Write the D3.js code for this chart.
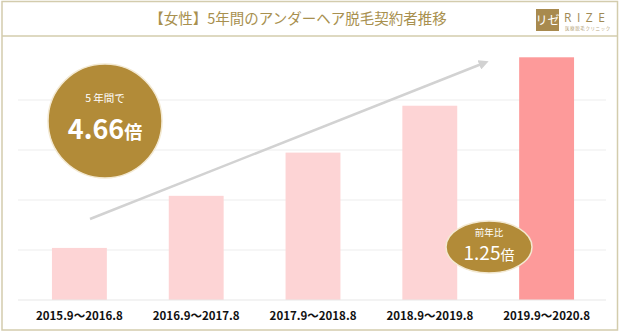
<!DOCTYPE html>
<html><head><meta charset="utf-8">
<script src="https://cdn.jsdelivr.net/npm/d3@7"></script>
<style>html,body{margin:0;padding:0;background:#fff;}svg{display:block;}</style>
</head><body>
<svg id="c" width="621" height="332"></svg>
<script>
const title = "【女性】5年間のアンダーヘア脱毛契約者推移";
const categories = ["2015.9～2016.8","2016.9～2017.8","2017.9～2018.8","2018.9～2019.8","2019.9～2020.8"];
const values = [100, 200, 283, 373, 466];
const gridValues = [96, 192, 288, 384];
const totalLabel = ["5 年間で", "4.66", "倍"];
const yoyLabel = ["前年比", "1.25", "倍"];

const svg = d3.select("#c");
const JP = "'Noto Sans CJK JP','Noto Sans',sans-serif";
const gold = "#b28b38";
const frame = "#d3ccad";

// frame
svg.append("rect").attr("x",2).attr("y",1.5).attr("width",615.5).attr("height",328.5)
  .attr("fill","#fff").attr("stroke",frame).attr("stroke-width",1.5);
svg.append("line").attr("x1",2).attr("x2",617.5).attr("y1",36).attr("y2",36)
  .attr("stroke",frame).attr("stroke-width",1.5);

// title
svg.append("text").attr("x",298).attr("y",24).attr("text-anchor","middle")
  .attr("font-family",JP).attr("font-size",14.5).attr("fill","#a8904e").text(title);

// logo
svg.append("rect").attr("x",536).attr("y",9).attr("width",23).attr("height",22).attr("fill","#a88a4e");
svg.append("text").attr("x",547.5).attr("y",25).attr("text-anchor","middle").attr("font-family",JP)
  .attr("font-size",12).attr("fill","#fff").text("リゼ");
svg.append("text").attr("x",564).attr("y",22).attr("font-family","'Open Sans',sans-serif")
  .attr("font-size",12).attr("letter-spacing",5.5).attr("fill","#a08a55").text("RIZE");
svg.append("text").attr("x",565).attr("y",30).attr("font-family",JP)
  .attr("font-size",4.5).attr("letter-spacing",0.6).attr("fill","#b8a880").text("医療脱毛クリニック");

// scales
const x = d3.scaleBand().domain(categories).range([21,605]).paddingInner(0.53).paddingOuter(0.265);
const y = d3.scaleLinear().domain([0,480]).range([300,50]);

// gridlines
svg.append("g").selectAll("line").data(gridValues).join("line")
  .attr("x1",18).attr("x2",606).attr("y1",d=>y(d)).attr("y2",d=>y(d))
  .attr("stroke","#ededed").attr("stroke-width",1.2);

// bars
svg.append("g").selectAll("rect").data(values).join("rect")
  .attr("x",(d,i)=>x(categories[i])).attr("width",x.bandwidth())
  .attr("y",d=>y(d)).attr("height",d=>y(0)-y(d))
  .attr("fill",(d,i)=>i===values.length-1?"#fd9a9a":"#fdd4d5");

// axis
const ax = svg.append("g").attr("transform",`translate(0,${y(0)})`)
  .call(d3.axisBottom(x).tickSize(0).tickPadding(12));
ax.select(".domain").attr("d","M18,0H606").attr("stroke","#e8e8e8").attr("stroke-width",1.2);
ax.selectAll("text").attr("font-family","'Noto Sans CJK JP',sans-serif").attr("font-weight","bold")
  .attr("font-size",11.5).attr("fill","#111");

// arrow
const defs = svg.append("defs");
defs.append("marker").attr("id","ah").attr("viewBox","0 0 10 10").attr("refX",5).attr("refY",5)
  .attr("markerWidth",4).attr("markerHeight",4).attr("orient","auto")
  .append("path").attr("d","M0,0L10,5L0,10z").attr("fill","#d2d2d2");
svg.append("line").attr("x1",90).attr("y1",219).attr("x2",484).attr("y2",63)
  .attr("stroke","#d2d2d2").attr("stroke-width",2.5).attr("marker-end","url(#ah)");

// big circle
svg.append("circle").attr("cx",105).attr("cy",121).attr("r",57).attr("fill",gold)
  .attr("stroke","#f3e9d2").attr("stroke-width",1.5);
svg.append("text").attr("x",105).attr("y",102).attr("text-anchor","middle").attr("font-family",JP)
  .attr("font-size",10.5).attr("fill","#fff").text(totalLabel[0]);
const t1 = svg.append("text").attr("x",105).attr("y",139).attr("text-anchor","middle")
  .attr("font-family",JP).attr("font-weight","bold").attr("fill","#fff");
t1.append("tspan").attr("font-size",27).text(totalLabel[1]);
t1.append("tspan").attr("font-size",18).text(totalLabel[2]);

// small ellipse
svg.append("ellipse").attr("cx",489).attr("cy",247).attr("rx",43).attr("ry",26).attr("fill",gold)
  .attr("stroke","#f3e9d2").attr("stroke-width",1.5);
svg.append("text").attr("x",489).attr("y",236).attr("text-anchor","middle").attr("font-family",JP)
  .attr("font-size",9.5).attr("fill","#fff").text(yoyLabel[0]);
const t2 = svg.append("text").attr("x",489).attr("y",260).attr("text-anchor","middle")
  .attr("font-family",JP).attr("fill","#fff");
t2.append("tspan").attr("font-size",19).text(yoyLabel[1]);
t2.append("tspan").attr("font-size",14).text(yoyLabel[2]);
</script>
</body></html>
